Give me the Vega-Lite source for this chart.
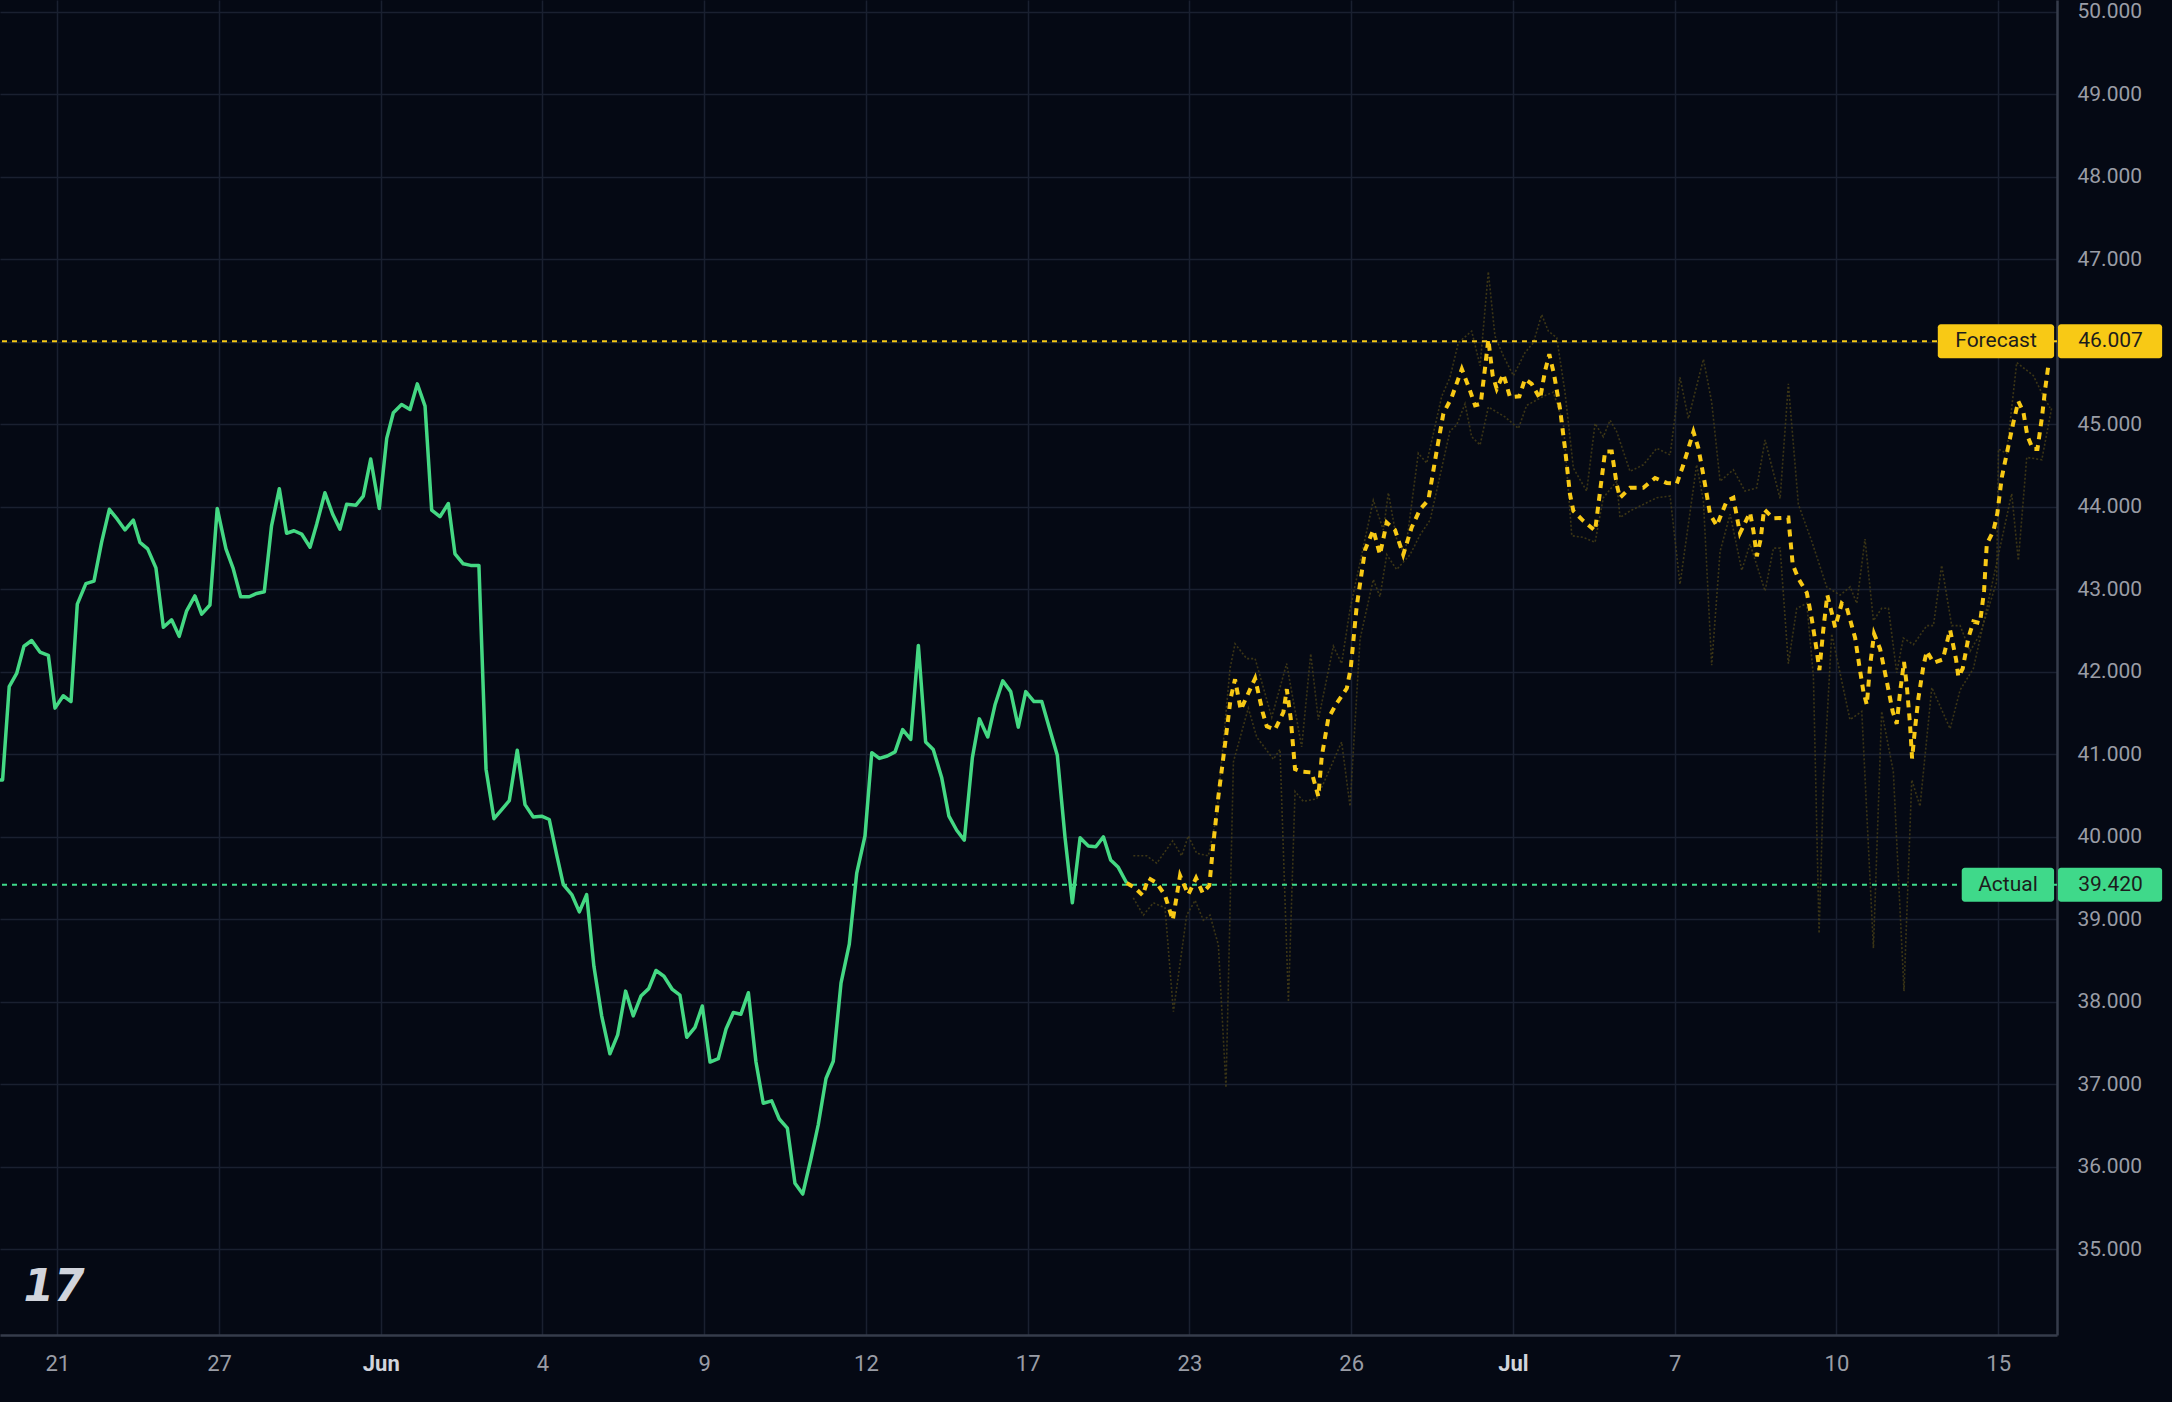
{
  "$schema": "https://vega.github.io/schema/vega-lite/v6.json",
  "width": 2057,
  "height": 1335,
  "autosize": {"type": "none"},
  "padding": {"left": 0, "top": 0, "right": 115, "bottom": 67},
  "background": "#050914",
  "datasets": {
    "actual": [
      {"t":-3.54,"price":40.69},{"t":-3.38,"price":40.69},{"t":-2.97,"price":41.82},{"t":-2.51,"price":41.98},{"t":-2.06,"price":42.31},{"t":-1.58,"price":42.38},{"t":-1.07,"price":42.24},{"t":-0.55,"price":42.2},{"t":-0.14,"price":41.56},{"t":0.37,"price":41.71},{"t":0.85,"price":41.64},{"t":1.24,"price":42.82},{"t":1.77,"price":43.07},{"t":2.27,"price":43.1},{"t":2.74,"price":43.57},{"t":3.22,"price":43.97},{"t":3.71,"price":43.85},{"t":4.19,"price":43.72},{"t":4.7,"price":43.84},{"t":5.11,"price":43.57},{"t":5.59,"price":43.49},{"t":6.1,"price":43.26},{"t":6.56,"price":42.54},{"t":7.07,"price":42.63},{"t":7.54,"price":42.43},{"t":8.0,"price":42.74},{"t":8.51,"price":42.92},{"t":8.93,"price":42.7},{"t":9.44,"price":42.81},{"t":9.89,"price":43.98},{"t":10.43,"price":43.49},{"t":10.88,"price":43.25},{"t":11.34,"price":42.91},{"t":11.87,"price":42.91},{"t":12.33,"price":42.95},{"t":12.8,"price":42.97},{"t":13.25,"price":43.77},{"t":13.73,"price":44.22},{"t":14.18,"price":43.68},{"t":14.64,"price":43.71},{"t":15.11,"price":43.67},{"t":15.63,"price":43.51},{"t":16.04,"price":43.79},{"t":16.55,"price":44.17},{"t":17.03,"price":43.91},{"t":17.48,"price":43.73},{"t":17.89,"price":44.03},{"t":18.47,"price":44.02},{"t":18.92,"price":44.13},{"t":19.38,"price":44.58},{"t":19.91,"price":43.98},{"t":20.37,"price":44.83},
      {"t":20.78,"price":45.14},{"t":21.29,"price":45.24},{"t":21.81,"price":45.18},{"t":22.26,"price":45.49},{"t":22.74,"price":45.22},{"t":23.15,"price":43.96},{"t":23.66,"price":43.88},{"t":24.18,"price":44.04},{"t":24.59,"price":43.43},{"t":25.1,"price":43.31},{"t":25.56,"price":43.29},{"t":26.07,"price":43.29},{"t":26.51,"price":40.82},{"t":27.0,"price":40.22},{"t":27.48,"price":40.33},{"t":27.95,"price":40.44},{"t":28.44,"price":41.05},{"t":28.92,"price":40.39},{"t":29.43,"price":40.24},{"t":29.95,"price":40.25},{"t":30.42,"price":40.21},{"t":30.88,"price":39.78},{"t":31.29,"price":39.42},{"t":31.81,"price":39.3},{"t":32.28,"price":39.09},{"t":32.73,"price":39.3},{"t":33.18,"price":38.43},{"t":33.66,"price":37.83},{"t":34.17,"price":37.37},{"t":34.65,"price":37.6},{"t":35.14,"price":38.13},{"t":35.61,"price":37.83},{"t":36.09,"price":38.07},{"t":36.57,"price":38.16},{"t":37.02,"price":38.38},{"t":37.51,"price":38.31},{"t":38.03,"price":38.15},{"t":38.5,"price":38.08},{"t":38.92,"price":37.57},{"t":39.43,"price":37.69},{"t":39.88,"price":37.95},{"t":40.36,"price":37.27},{"t":40.87,"price":37.31},{"t":41.35,"price":37.67},{"t":41.8,"price":37.87},{"t":42.27,"price":37.85},{"t":42.73,"price":38.11},{"t":43.2,"price":37.27},{"t":43.65,"price":36.77},{"t":44.17,"price":36.8},{"t":44.64,"price":36.58},
      {"t":45.14,"price":36.47},{"t":45.61,"price":35.8},{"t":46.09,"price":35.67},{"t":46.58,"price":36.08},{"t":47.05,"price":36.51},{"t":47.53,"price":37.07},{"t":47.98,"price":37.28},{"t":48.46,"price":38.23},{"t":48.97,"price":38.7},{"t":49.43,"price":39.56},{"t":49.94,"price":40.01},{"t":50.36,"price":41.02},{"t":50.83,"price":40.95},{"t":51.32,"price":40.98},{"t":51.8,"price":41.03},{"t":52.27,"price":41.3},{"t":52.77,"price":41.18},{"t":53.24,"price":42.32},{"t":53.69,"price":41.15},{"t":54.16,"price":41.06},{"t":54.68,"price":40.72},{"t":55.13,"price":40.25},{"t":55.61,"price":40.08},{"t":56.08,"price":39.96},{"t":56.58,"price":40.96},{"t":57.01,"price":41.43},{"t":57.53,"price":41.21},{"t":57.98,"price":41.6},{"t":58.46,"price":41.89},{"t":58.95,"price":41.76},{"t":59.42,"price":41.33},{"t":59.88,"price":41.76},{"t":60.39,"price":41.64},{"t":60.87,"price":41.64},{"t":61.34,"price":41.32},{"t":61.83,"price":40.99},{"t":62.31,"price":39.99},{"t":62.76,"price":39.2},{"t":63.24,"price":39.99},{"t":63.75,"price":39.89},{"t":64.21,"price":39.88},{"t":64.68,"price":40.0},{"t":65.13,"price":39.72},{"t":65.6,"price":39.63},{"t":66.12,"price":39.44}
    ],
    "forecast": [
      {"t":66.12,"price":39.44},{"t":66.64,"price":39.38},{"t":67.11,"price":39.29},{"t":67.46,"price":39.5},{"t":67.98,"price":39.44},{"t":68.49,"price":39.29},{"t":68.97,"price":38.99},{"t":69.42,"price":39.53},{"t":69.93,"price":39.3},{"t":70.41,"price":39.5},{"t":70.82,"price":39.32},{"t":71.23,"price":39.41},{"t":71.48,"price":39.92},{"t":71.79,"price":40.49},{"t":72.2,"price":41.12},{"t":72.55,"price":41.68},{"t":72.82,"price":41.91},{"t":73.17,"price":41.54},{"t":73.5,"price":41.68},{"t":74.06,"price":41.92},{"t":74.53,"price":41.51},{"t":74.78,"price":41.34},{"t":75.29,"price":41.3},{"t":75.81,"price":41.51},{"t":76.02,"price":41.79},{"t":76.26,"price":41.44},{"t":76.53,"price":40.82},{"t":76.94,"price":40.79},{"t":77.56,"price":40.78},{"t":77.97,"price":40.49},{"t":78.18,"price":40.97},{"t":78.59,"price":41.44},{"t":79.11,"price":41.62},{"t":79.73,"price":41.8},{"t":79.97,"price":42.04},{"t":80.34,"price":42.79},{"t":80.86,"price":43.48},{"t":81.37,"price":43.72},{"t":81.78,"price":43.42},{"t":82.2,"price":43.81},{"t":82.71,"price":43.72},{"t":83.22,"price":43.42},{"t":83.74,"price":43.75},{"t":84.26,"price":43.97},{"t":84.77,"price":44.08},{"t":85.29,"price":44.68},{"t":85.7,"price":45.13},{"t":86.22,"price":45.33},{"t":86.84,"price":45.67},{"t":87.31,"price":45.43},{"t":87.66,"price":45.23},{"t":88.01,"price":45.25},{"t":88.28,"price":45.69},{"t":88.48,"price":46.03},{"t":88.75,"price":45.59},{"t":89.0,"price":45.43},{"t":89.41,"price":45.61},{"t":89.82,"price":45.33},{"t":90.4,"price":45.34},{"t":90.75,"price":45.55},{"t":91.16,"price":45.49},{"t":91.68,"price":45.31},{"t":91.99,"price":45.65},{"t":92.25,"price":45.85},{"t":92.54,"price":45.61},{"t":92.91,"price":45.19},{"t":93.22,"price":44.71},{"t":93.53,"price":44.15},{"t":93.74,"price":43.95},{"t":94.35,"price":43.83},{"t":95.08,"price":43.71},{"t":95.39,"price":44.19},{"t":95.7,"price":44.67},{"t":96.11,"price":44.67},{"t":96.42,"price":44.27},{"t":96.62,"price":44.11},{"t":97.24,"price":44.23},{"t":98.06,"price":44.23},{"t":98.79,"price":44.35},{"t":99.51,"price":44.29},{"t":100.13,"price":44.28},{"t":100.54,"price":44.51},{"t":101.16,"price":44.91},{"t":101.47,"price":44.71},{"t":101.88,"price":44.27},{"t":102.19,"price":43.91},{"t":102.6,"price":43.77},{"t":103.22,"price":44.07},{"t":103.63,"price":44.11},{"t":104.04,"price":43.68},{"t":104.46,"price":43.85},{"t":104.66,"price":43.93},{"t":104.87,"price":43.71},{"t":105.08,"price":43.4},{"t":105.32,"price":43.61},{"t":105.53,"price":43.97},{"t":106.1,"price":43.86},{"t":107.03,"price":43.87},{"t":107.3,"price":43.3},{"t":107.65,"price":43.13},{"t":108.17,"price":42.96},{"t":108.48,"price":42.64},{"t":108.79,"price":42.25},{"t":108.95,"price":42.02},{"t":109.19,"price":42.51},{"t":109.44,"price":42.93},{"t":109.71,"price":42.72},{"t":109.92,"price":42.54},{"t":110.33,"price":42.83},{"t":110.64,"price":42.78},{"t":111.16,"price":42.41},{"t":111.42,"price":42.07},{"t":111.67,"price":41.76},{"t":111.88,"price":41.6},{"t":112.08,"price":42.07},{"t":112.33,"price":42.46},{"t":112.7,"price":42.28},{"t":113.11,"price":41.89},{"t":113.48,"price":41.52},{"t":113.73,"price":41.37},{"t":113.94,"price":41.76},{"t":114.18,"price":42.12},{"t":114.35,"price":41.84},{"t":114.55,"price":41.37},{"t":114.68,"price":40.95},{"t":114.86,"price":41.31},{"t":115.07,"price":41.68},{"t":115.38,"price":42.07},{"t":115.59,"price":42.25},{"t":116.0,"price":42.11},{"t":116.58,"price":42.15},{"t":117.03,"price":42.51},{"t":117.4,"price":42.15},{"t":117.54,"price":41.94},{"t":117.81,"price":42.04},{"t":118.16,"price":42.41},{"t":118.47,"price":42.61},{"t":118.88,"price":42.59},{"t":119.13,"price":42.98},{"t":119.3,"price":43.55},{"t":119.71,"price":43.71},{"t":119.95,"price":43.92},{"t":120.23,"price":44.36},{"t":120.54,"price":44.65},{"t":120.94,"price":45.02},{"t":121.25,"price":45.28},{"t":121.56,"price":45.15},{"t":121.81,"price":44.86},{"t":122.14,"price":44.7},{"t":122.43,"price":44.7},{"t":122.7,"price":45.07},{"t":122.91,"price":45.43},{"t":123.11,"price":45.72}
    ],
    "upper": [
      {"t":66.53,"price":39.77},{"t":67.36,"price":39.77},{"t":67.98,"price":39.68},{"t":68.96,"price":39.95},{"t":69.52,"price":39.77},{"t":69.93,"price":40.01},{"t":70.45,"price":39.8},{"t":71.17,"price":39.77},{"t":71.68,"price":40.25},{"t":72.51,"price":42.04},{"t":72.82,"price":42.34},{"t":73.54,"price":42.16},{"t":74.06,"price":42.16},{"t":75.09,"price":41.45},{"t":76.01,"price":42.1},{"t":76.94,"price":41.09},{"t":77.5,"price":42.22},{"t":77.97,"price":41.42},{"t":78.9,"price":42.31},{"t":79.41,"price":42.1},{"t":79.93,"price":42.76},{"t":81.37,"price":44.08},{"t":81.99,"price":43.72},{"t":82.3,"price":44.17},{"t":82.82,"price":43.6},{"t":83.33,"price":43.42},{"t":84.15,"price":44.65},{"t":84.67,"price":44.53},{"t":85.6,"price":45.34},{"t":86.11,"price":45.57},{"t":86.63,"price":45.99},{"t":87.45,"price":46.13},{"t":87.97,"price":45.71},{"t":88.48,"price":46.85},{"t":88.89,"price":46.07},{"t":89.41,"price":45.83},{"t":90.03,"price":45.59},{"t":90.75,"price":45.87},{"t":91.27,"price":45.99},{"t":91.78,"price":46.33},{"t":92.19,"price":46.13},{"t":92.71,"price":46.05},{"t":93.22,"price":45.39},{"t":93.74,"price":44.47},{"t":94.56,"price":44.19},{"t":95.08,"price":45.01},{"t":95.59,"price":44.85},{"t":96.01,"price":45.05},{"t":96.42,"price":44.91},{"t":97.24,"price":44.43},{"t":98.07,"price":44.51},{"t":98.89,"price":44.71},{"t":99.72,"price":44.63},{"t":100.33,"price":45.57},{"t":100.85,"price":45.07},{"t":101.78,"price":45.79},{"t":102.29,"price":45.27},{"t":102.81,"price":44.31},{"t":103.63,"price":44.45},{"t":104.35,"price":44.19},{"t":105.07,"price":44.23},{"t":105.59,"price":44.81},{"t":106.52,"price":44.1},{"t":107.03,"price":45.49},{"t":107.65,"price":44.03},{"t":108.48,"price":43.58},{"t":109.4,"price":43.03},{"t":110.23,"price":42.93},{"t":110.85,"price":43.03},{"t":111.26,"price":42.83},{"t":111.77,"price":43.61},{"t":112.29,"price":42.62},{"t":112.8,"price":42.77},{"t":113.22,"price":42.77},{"t":113.73,"price":41.99},{"t":114.14,"price":42.41},{"t":114.76,"price":42.33},{"t":115.59,"price":42.56},{"t":116.0,"price":42.56},{"t":116.51,"price":43.29},{"t":117.13,"price":42.56},{"t":117.65,"price":42.56},{"t":118.27,"price":42.25},{"t":118.88,"price":42.46},{"t":119.4,"price":42.77},{"t":119.91,"price":43.09},{"t":120.02,"price":44.7},{"t":120.53,"price":44.65},{"t":121.15,"price":45.75},{"t":122.18,"price":45.59},{"t":122.7,"price":45.38},{"t":123.21,"price":45.2}
    ],
    "lower": [
      {"t":66.53,"price":39.26},{"t":67.15,"price":39.05},{"t":67.77,"price":39.2},{"t":68.49,"price":39.14},{"t":69.01,"price":37.88},{"t":69.83,"price":39.05},{"t":70.35,"price":39.23},{"t":70.86,"price":38.99},{"t":71.27,"price":39.05},{"t":71.79,"price":38.69},{"t":72.26,"price":36.96},{"t":72.72,"price":40.91},{"t":73.64,"price":41.56},{"t":74.16,"price":41.21},{"t":75.19,"price":40.94},{"t":75.6,"price":41.06},{"t":76.12,"price":38.0},{"t":76.53,"price":40.55},{"t":77.04,"price":40.43},{"t":77.87,"price":40.46},{"t":79.41,"price":41.15},{"t":79.93,"price":40.37},{"t":80.55,"price":42.4},{"t":81.37,"price":43.12},{"t":81.78,"price":42.91},{"t":82.2,"price":43.42},{"t":82.81,"price":43.24},{"t":83.64,"price":43.42},{"t":84.26,"price":43.66},{"t":84.88,"price":43.84},{"t":86.11,"price":44.92},{"t":86.52,"price":44.99},{"t":87.04,"price":45.25},{"t":87.45,"price":44.85},{"t":87.97,"price":44.75},{"t":88.48,"price":45.21},{"t":89.51,"price":45.09},{"t":90.34,"price":44.95},{"t":90.85,"price":45.23},{"t":91.99,"price":45.35},{"t":92.5,"price":45.39},{"t":93.12,"price":45.01},{"t":93.64,"price":43.65},{"t":94.36,"price":43.63},{"t":95.08,"price":43.57},{"t":95.59,"price":44.11},{"t":96.42,"price":44.31},{"t":96.62,"price":43.87},{"t":97.24,"price":43.95},{"t":98.07,"price":44.03},{"t":98.89,"price":44.11},{"t":99.72,"price":44.13},{"t":100.33,"price":43.06},{"t":101.36,"price":44.51},{"t":101.78,"price":44.07},{"t":102.29,"price":42.08},{"t":102.81,"price":43.46},{"t":103.43,"price":43.91},{"t":104.15,"price":43.23},{"t":104.66,"price":43.55},{"t":105.59,"price":42.98},{"t":106.11,"price":43.5},{"t":106.52,"price":43.5},{"t":107.03,"price":42.1},{"t":107.55,"price":42.77},{"t":108.17,"price":42.83},{"t":108.58,"price":41.94},{"t":108.93,"price":38.83},{"t":109.2,"price":40.63},{"t":109.71,"price":42.46},{"t":110.84,"price":41.42},{"t":111.57,"price":41.52},{"t":112.29,"price":38.65},{"t":112.8,"price":41.52},{"t":113.52,"price":40.79},{"t":114.18,"price":38.13},{"t":114.66,"price":40.69},{"t":115.17,"price":40.37},{"t":115.9,"price":41.81},{"t":117.03,"price":41.31},{"t":117.65,"price":41.78},{"t":118.47,"price":42.04},{"t":119.3,"price":42.77},{"t":120.84,"price":44.16},{"t":121.25,"price":43.35},{"t":121.77,"price":44.6},{"t":122.7,"price":44.57},{"t":123.31,"price":45.2}
    ],
    "levels": [
      {"name": "Forecast", "price": 46.007},
      {"name": "Actual", "price": 39.42}
    ]
  },
  "layer": [
    {
      "data": {"name": "upper"},
      "mark": {"type": "line", "color": "#4a4116", "strokeWidth": 1.6, "strokeDash": [2, 2], "opacity": 0.8},
      "encoding": {
        "x": {
          "field": "t",
          "type": "quantitative",
          "scale": {"domain": [-3.54, 123.64], "nice": false, "zero": false},
          "axis": {
            "values": [0, 10, 20, 30, 40, 50, 60, 70, 80, 90, 100, 110, 120],
            "labelExpr": "['21','27','Jun','4','9','12','17','23','26','Jul','7','10','15'][round(datum.value / 10)]",
            "title": null,
            "grid": true,
            "gridColor": "#1a2030",
            "gridWidth": 1.5,
            "domain": true,
            "domainColor": "#363c4b",
            "domainWidth": 2.5,
            "ticks": false,
            "labelPadding": 18,
            "labelFont": "Roboto",
            "labelFontSize": 22,
            "labelColor": {"condition": {"test": "datum.value == 20 || datum.value == 90", "value": "#d1d4dc"}, "value": "#9a9da6"},
            "labelFontWeight": {"condition": {"test": "datum.value == 20 || datum.value == 90", "value": "bold"}, "value": "normal"},
            "labelOverlap": false
          }
        },
        "y": {
          "field": "price",
          "type": "quantitative",
          "scale": {"domain": [34.022, 50.083], "nice": false, "zero": false},
          "axis": {
            "orient": "right",
            "values": [35, 36, 37, 38, 39, 40, 41, 42, 43, 44, 45, 46, 47, 48, 49, 50],
            "format": ".3f",
            "title": null,
            "grid": true,
            "gridColor": "#1a2030",
            "gridWidth": 1.5,
            "domain": true,
            "domainColor": "#363c4b",
            "domainWidth": 2.5,
            "ticks": false,
            "labelPadding": 20,
            "labelAlign": "left",
            "labelFont": "Roboto",
            "labelFontSize": 21,
            "labelColor": "#9a9da6",
            "labelOverlap": false,
            "labelBound": false
          }
        }
      }
    },
    {
      "data": {"name": "lower"},
      "mark": {"type": "line", "color": "#4a4116", "strokeWidth": 1.6, "strokeDash": [2, 2], "opacity": 0.8},
      "encoding": {
        "x": {"field": "t", "type": "quantitative"},
        "y": {"field": "price", "type": "quantitative"}
      }
    },
    {
      "data": {"name": "levels"},
      "mark": {"type": "rule", "strokeWidth": 2, "strokeDash": [5, 5]},
      "encoding": {
        "y": {"field": "price", "type": "quantitative"},
        "color": {
          "field": "name",
          "type": "nominal",
          "scale": {"domain": ["Forecast", "Actual"], "range": ["#f8c915", "#3fd98a"]},
          "legend": null
        }
      }
    },
    {
      "data": {"name": "actual"},
      "mark": {"type": "line", "color": "#44d883", "strokeWidth": 3.5, "strokeJoin": "round"},
      "encoding": {
        "x": {"field": "t", "type": "quantitative"},
        "y": {"field": "price", "type": "quantitative"}
      }
    },
    {
      "data": {"name": "forecast"},
      "mark": {"type": "line", "color": "#f8c915", "strokeWidth": 4, "strokeDash": [7, 6]},
      "encoding": {
        "x": {"field": "t", "type": "quantitative"},
        "y": {"field": "price", "type": "quantitative"}
      }
    },
    {
      "data": {"name": "levels"},
      "transform": [{"filter": "datum.name == 'Forecast'"}],
      "mark": {"type": "bar", "orient": "horizontal", "size": 34, "cornerRadius": 3},
      "encoding": {
        "x": {"datum": 116.27, "type": "quantitative"},
        "x2": {"datum": 123.46},
        "y": {"field": "price", "type": "quantitative"},
        "color": {"field": "name", "type": "nominal", "legend": null}
      }
    },
    {
      "data": {"name": "levels"},
      "transform": [{"filter": "datum.name == 'Actual'"}],
      "mark": {"type": "bar", "orient": "horizontal", "size": 34, "cornerRadius": 3},
      "encoding": {
        "x": {"datum": 117.75, "type": "quantitative"},
        "x2": {"datum": 123.46},
        "y": {"field": "price", "type": "quantitative"},
        "color": {"field": "name", "type": "nominal", "legend": null}
      }
    },
    {
      "data": {"name": "levels"},
      "mark": {"type": "bar", "orient": "horizontal", "size": 34, "cornerRadius": 3},
      "encoding": {
        "x": {"datum": 123.7, "type": "quantitative"},
        "x2": {"datum": 130.14},
        "y": {"field": "price", "type": "quantitative"},
        "color": {"field": "name", "type": "nominal", "legend": null}
      }
    },
    {
      "data": {"name": "levels"},
      "transform": [{"filter": "datum.name == 'Forecast'"}],
      "mark": {"type": "text", "font": "Roboto", "fontSize": 21, "color": "#1c1c1c", "align": "center", "baseline": "middle"},
      "encoding": {
        "x": {"datum": 119.87, "type": "quantitative"},
        "y": {"field": "price", "type": "quantitative"},
        "text": {"field": "name"}
      }
    },
    {
      "data": {"name": "levels"},
      "transform": [{"filter": "datum.name == 'Actual'"}],
      "mark": {"type": "text", "font": "Roboto", "fontSize": 21, "color": "#1c1c1c", "align": "center", "baseline": "middle"},
      "encoding": {
        "x": {"datum": 120.61, "type": "quantitative"},
        "y": {"field": "price", "type": "quantitative"},
        "text": {"field": "name"}
      }
    },
    {
      "data": {"name": "levels"},
      "mark": {"type": "text", "font": "Roboto", "fontSize": 21, "color": "#1c1c1c", "align": "center", "baseline": "middle"},
      "encoding": {
        "x": {"datum": 126.95, "type": "quantitative"},
        "y": {"field": "price", "type": "quantitative"},
        "text": {"field": "price", "type": "quantitative", "format": ".3f"}
      }
    },
    {
      "data": {"values": [{"logo": "17"}]},
      "mark": {"type": "text", "font": "DejaVu Sans", "fontSize": 44, "fontWeight": "bold", "fontStyle": "italic", "color": "#d1d4dc", "align": "center", "baseline": "middle"},
      "encoding": {
        "x": {"datum": -0.2, "type": "quantitative"},
        "y": {"datum": 34.53, "type": "quantitative"},
        "text": {"field": "logo"}
      }
    }
  ],
  "config": {
    "view": {"stroke": null}
  }
}
